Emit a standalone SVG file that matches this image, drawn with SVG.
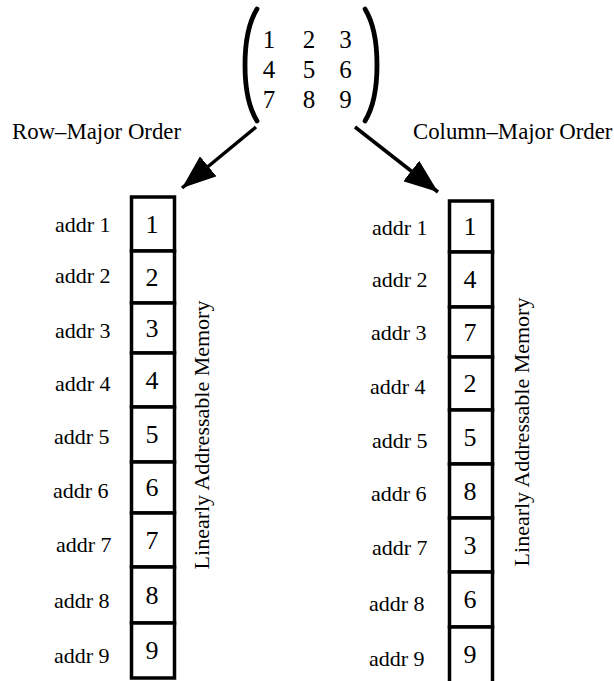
<svg xmlns="http://www.w3.org/2000/svg" width="614" height="681" viewBox="0 0 614 681">
<style>
text{font-family:"Liberation Serif","Times New Roman",serif;fill:#000}
.lbl{font-size:22px}
.ttl{font-size:22.8px}
.dig{font-size:26px;text-anchor:middle}
.mat{font-size:25px;text-anchor:middle}
.cell{fill:#fff;stroke:#000;stroke-width:3.5}
.paren{fill:none;stroke:#000;stroke-width:4.8;stroke-linecap:round}
.conn{stroke:#000;stroke-width:3.5;fill:none}
</style>
<defs>
<marker id="ah" markerUnits="userSpaceOnUse" markerWidth="36" markerHeight="26" refX="34" refY="13" orient="auto">
<path d="M0,0 L34,13 L0,26 Z" fill="#000"/>
</marker>
</defs>
<rect width="614" height="681" fill="#fff"/>

<g id="matrix">
<path class="paren" d="M257,9 C241,35 241,95 257,121"/>
<path class="paren" d="M365,9 C381,35 381,95 365,121"/>
<text class="mat" x="269" y="48">1</text>
<text class="mat" x="309" y="48">2</text>
<text class="mat" x="345.5" y="48">3</text>
<text class="mat" x="269" y="78">4</text>
<text class="mat" x="309" y="78">5</text>
<text class="mat" x="345.5" y="78">6</text>
<text class="mat" x="269" y="108">7</text>
<text class="mat" x="309" y="108">8</text>
<text class="mat" x="345.5" y="108">9</text>
</g>

<g id="row-major-title"><text class="ttl" x="12" y="139">Row–Major Order</text></g>
<g id="col-major-title"><text class="ttl" x="413" y="139">Column–Major Order</text></g>

<g id="connectors">
<line class="conn" x1="256" y1="127" x2="182" y2="188" marker-end="url(#ah)"/>
<line class="conn" x1="355" y1="127" x2="438" y2="192" marker-end="url(#ah)"/>
</g>

<g id="row-major-memory">
<rect class="cell" x="131.5" y="197" width="43" height="54"/>
<rect class="cell" x="131.5" y="251" width="43" height="52"/>
<rect class="cell" x="131.5" y="303" width="43" height="50"/>
<rect class="cell" x="131.5" y="353" width="43" height="54"/>
<rect class="cell" x="131.5" y="407" width="43" height="55"/>
<rect class="cell" x="131.5" y="462" width="43" height="51"/>
<rect class="cell" x="131.5" y="513" width="43" height="54"/>
<rect class="cell" x="131.5" y="567" width="43" height="56"/>
<rect class="cell" x="131.5" y="623" width="43" height="55"/>
<text class="dig" x="152" y="232.5">1</text>
<text class="dig" x="152" y="285.5">2</text>
<text class="dig" x="152" y="336.5">3</text>
<text class="dig" x="152" y="388.5">4</text>
<text class="dig" x="152" y="443">5</text>
<text class="dig" x="152" y="496">6</text>
<text class="dig" x="152" y="548.5">7</text>
<text class="dig" x="152" y="603.5">8</text>
<text class="dig" x="152" y="659">9</text>
<text class="lbl" x="55" y="232">addr 1</text>
<text class="lbl" x="55" y="283">addr 2</text>
<text class="lbl" x="55" y="338">addr 3</text>
<text class="lbl" x="55" y="391">addr 4</text>
<text class="lbl" x="54" y="444">addr 5</text>
<text class="lbl" x="53" y="498">addr 6</text>
<text class="lbl" x="56" y="552">addr 7</text>
<text class="lbl" x="54" y="608">addr 8</text>
<text class="lbl" x="54" y="663">addr 9</text>
<text class="lbl" text-anchor="middle" transform="translate(209,435) rotate(-90)">Linearly Addressable Memory</text>
</g>

<g id="column-major-memory">
<rect class="cell" x="449.5" y="201" width="43" height="51"/>
<rect class="cell" x="449.5" y="252" width="43" height="55"/>
<rect class="cell" x="449.5" y="307" width="43" height="50"/>
<rect class="cell" x="449.5" y="357" width="43" height="53"/>
<rect class="cell" x="449.5" y="410" width="43" height="54"/>
<rect class="cell" x="449.5" y="464" width="43" height="54"/>
<rect class="cell" x="449.5" y="518" width="43" height="54"/>
<rect class="cell" x="449.5" y="572" width="43" height="55"/>
<rect class="cell" x="449.5" y="627" width="43" height="57"/>
<text class="dig" x="470" y="235">1</text>
<text class="dig" x="470" y="288">4</text>
<text class="dig" x="470" y="340.5">7</text>
<text class="dig" x="470" y="392">2</text>
<text class="dig" x="470" y="445.5">5</text>
<text class="dig" x="470" y="499.5">8</text>
<text class="dig" x="470" y="553.5">3</text>
<text class="dig" x="470" y="608">6</text>
<text class="dig" x="470" y="663">9</text>
<text class="lbl" x="372" y="235">addr 1</text>
<text class="lbl" x="372" y="287">addr 2</text>
<text class="lbl" x="371" y="340">addr 3</text>
<text class="lbl" x="370" y="394">addr 4</text>
<text class="lbl" x="372" y="448">addr 5</text>
<text class="lbl" x="371" y="501">addr 6</text>
<text class="lbl" x="372" y="555">addr 7</text>
<text class="lbl" x="369" y="611">addr 8</text>
<text class="lbl" x="369" y="666">addr 9</text>
<text class="lbl" text-anchor="middle" transform="translate(529,432) rotate(-90)">Linearly Addressable Memory</text>
</g>
</svg>
